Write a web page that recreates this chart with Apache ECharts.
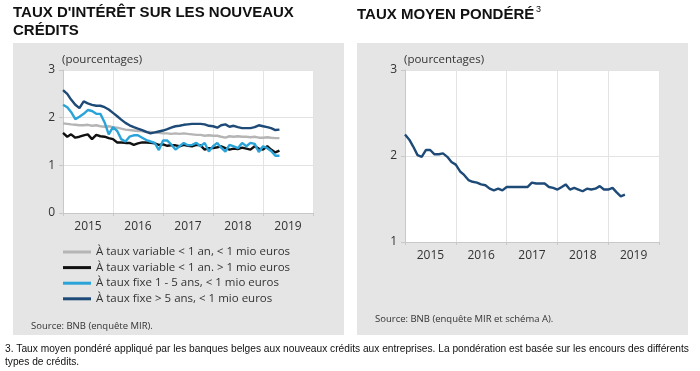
<!DOCTYPE html>
<html><head><meta charset="utf-8">
<script src="https://cdn.jsdelivr.net/npm/echarts@6/dist/echarts.min.js"></script>
<style>html,body{margin:0;padding:0;background:#fff}#c{width:700px;height:371px}</style>
</head><body><div id="c"></div>
<script>
const years = ['2015','2016','2017','2018','2019'];
const legendNames = [
  'À taux variable < 1 an, < 1 mio euros',
  'À taux variable < 1 an. > 1 mio euros',
  'À taux fixe 1 - 5 ans, < 1 mio euros',
  'À taux fixe > 5 ans, < 1 mio euros'
];
const varShortSmall = [
  1.88,1.87,1.86,1.85,1.84,1.84,1.85,1.83,1.84,1.82,
  1.81,1.82,1.80,1.79,1.77,1.75,1.74,1.73,1.72,1.72,
  1.70,1.70,1.69,1.68,1.67,1.67,1.66,1.67,1.66,1.67,
  1.66,1.65,1.64,1.64,1.62,1.63,1.62,1.62,1.60,1.58,
  1.61,1.60,1.61,1.60,1.60,1.59,1.60,1.58,1.58,1.59,
  1.58,1.57,1.57];
const varShortLarge = [
  1.68,1.60,1.65,1.58,1.60,1.63,1.65,1.55,1.64,1.61,
  1.60,1.57,1.55,1.48,1.48,1.47,1.47,1.43,1.46,1.48,
  1.48,1.47,1.46,1.43,1.44,1.41,1.42,1.42,1.40,1.43,
  1.41,1.40,1.43,1.42,1.33,1.36,1.36,1.38,1.40,1.36,
  1.33,1.35,1.34,1.37,1.35,1.33,1.40,1.35,1.33,1.40,
  1.33,1.27,1.31];
const fixed1to5 = [
  2.27,2.22,2.12,1.97,2.02,2.08,2.16,2.14,2.08,2.08,
  1.90,1.65,1.80,1.72,1.55,1.50,1.60,1.63,1.63,1.58,
  1.53,1.50,1.47,1.32,1.52,1.52,1.44,1.33,1.40,1.47,
  1.42,1.43,1.47,1.40,1.47,1.29,1.40,1.47,1.37,1.29,
  1.43,1.40,1.36,1.47,1.40,1.47,1.45,1.28,1.40,1.36,
  1.30,1.20,1.20];
const fixedOver5 = [
  2.58,2.50,2.38,2.27,2.20,2.34,2.30,2.27,2.25,2.25,
  2.22,2.17,2.10,2.03,1.96,1.89,1.84,1.80,1.77,1.74,
  1.70,1.67,1.69,1.71,1.73,1.76,1.79,1.82,1.83,1.85,
  1.86,1.87,1.87,1.87,1.86,1.83,1.82,1.79,1.84,1.86,
  1.81,1.83,1.80,1.78,1.78,1.78,1.80,1.84,1.82,1.80,
  1.78,1.74,1.75];
const weightedAvg = [
  2.25,2.19,2.11,2.01,1.99,2.07,2.07,2.02,2.02,2.03,
  1.99,1.93,1.90,1.82,1.78,1.72,1.70,1.69,1.67,1.66,
  1.62,1.60,1.62,1.60,1.64,1.64,1.64,1.64,1.64,1.64,
  1.69,1.68,1.68,1.68,1.64,1.63,1.61,1.64,1.67,1.61,
  1.63,1.61,1.59,1.62,1.61,1.62,1.65,1.61,1.61,1.63,
  1.58,1.53,1.55];
const leftTicks = [0,3,1];
const rightTicks = [1,3,1];

function monthDate(i){
  const y = 2015 + Math.floor(i/12), m = i%12 + 1;
  return y + '-' + (m<10?'0':'') + m + '-01';
}
function pairs(arr){ return arr.map((v,i)=>[monthDate(i), v]); }

const chart = echarts.init(document.getElementById('c'), null, {renderer:'canvas'});
const font = '"Open Sans", "Noto Sans", sans-serif';
const txt = '#333';
const grid1 = {left:63, right:387, top:70, bottom:158, show:true, backgroundColor:'#fff', borderWidth:0};
const grid2 = {left:405, right:41, top:70, bottom:129, show:true, backgroundColor:'#fff', borderWidth:0};

function catAxis(gi){
  return {type:'category', gridIndex:gi, data:years, boundaryGap:true, position:'bottom',
    axisLine:{show:true, lineStyle:{color:'#c8c8c8', width:1}},
    axisTick:{show:true, length:3, lineStyle:{color:'#c8c8c8'}},
    axisLabel:{color:txt, fontSize:12, fontFamily:font, margin:8},
    splitLine:{show:true, lineStyle:{color:'#e3e3e3', width:1}}};
}
function timeAxis(gi){
  return {type:'time', gridIndex:gi, min:'2015-01-01', max:'2020-01-01', show:false,
    splitLine:{show:false}};
}
function valAxis(gi, t){
  return {type:'value', gridIndex:gi, min:t[0], max:t[1], interval:t[2],
    axisLine:{show:true, lineStyle:{color:'#c8c8c8'}},
    axisTick:{show:true, length:4, lineStyle:{color:'#c8c8c8'}},
    axisLabel:{color:txt, fontSize:12, fontFamily:font, margin:8},
    splitLine:{show:true, lineStyle:{color:'#e3e3e3'}}};
}
function line(name, data, color, xi, yi){
  return {name, type:'line', xAxisIndex:xi, yAxisIndex:yi, data:pairs(data),
    showSymbol:false, symbol:'none', lineStyle:{color, width:2.4}, itemStyle:{color}, animation:false};
}

chart.setOption({
  animation:false,
  grid:[grid1, grid2],
  xAxis:[catAxis(0), timeAxis(0), catAxis(1), timeAxis(1)],
  yAxis:[valAxis(0, leftTicks), valAxis(1, rightTicks)],
  legend:{left:58, top:241, orient:'vertical', itemWidth:28, itemHeight:3, itemGap:3.6, icon:'rect',
    textStyle:{color:txt, fontSize:11.5, fontFamily:font},
    data:legendNames},
  series:[
    line(legendNames[0], varShortSmall, '#b5b5b5', 1, 0),
    line(legendNames[1], varShortLarge, '#111111', 1, 0),
    line(legendNames[2], fixed1to5, '#2aa3d9', 1, 0),
    line(legendNames[3], fixedOver5, '#1e4a78', 1, 0),
    line('Taux moyen pondéré', weightedAvg, '#1e4a78', 3, 1)
  ],
  graphic:[
    {type:'rect', z:-10, shape:{x:13, y:43, width:331, height:292}, style:{fill:'#e5e5e5'}},
    {type:'rect', z:-10, shape:{x:357, y:43, width:331, height:292}, style:{fill:'#e5e5e5'}},
    {type:'text', left:13, top:4, style:{text:"TAUX D'INTÉRÊT SUR LES NOUVEAUX\nCRÉDITS", font:'bold 15px "Liberation Sans", Arial, sans-serif', fill:'#111', lineHeight:18}},
    {type:'text', left:357, top:7, style:{text:'TAUX MOYEN PONDÉRÉ', font:'bold 15px "Liberation Sans", Arial, sans-serif', fill:'#111'}},
    {type:'text', left:536, top:5, style:{text:'3', font:'9px "Liberation Sans", Arial, sans-serif', fill:'#111'}},
    {type:'text', left:62, top:54, style:{text:'(pourcentages)', font:'11.5px "Open Sans", sans-serif', fill:txt}},
    {type:'text', left:404, top:54, style:{text:'(pourcentages)', font:'11.5px "Open Sans", sans-serif', fill:txt}},
    {type:'text', left:31, top:321, style:{text:'Source: BNB (enquête MIR).', font:'9.5px "Open Sans", sans-serif', fill:txt}},
    {type:'text', left:375, top:314, style:{text:'Source: BNB (enquête MIR et schéma A).', font:'9.5px "Open Sans", sans-serif', fill:txt}},
    {type:'text', left:5, top:343, style:{text:'3. Taux moyen pondéré appliqué par les banques belges aux nouveaux crédits aux entreprises. La pondération est basée sur les encours des différents\ntypes de crédits.', font:'10.2px "Liberation Sans", Arial, sans-serif', fill:'#111', lineHeight:13}}
  ]
});
</script>
</body></html>
